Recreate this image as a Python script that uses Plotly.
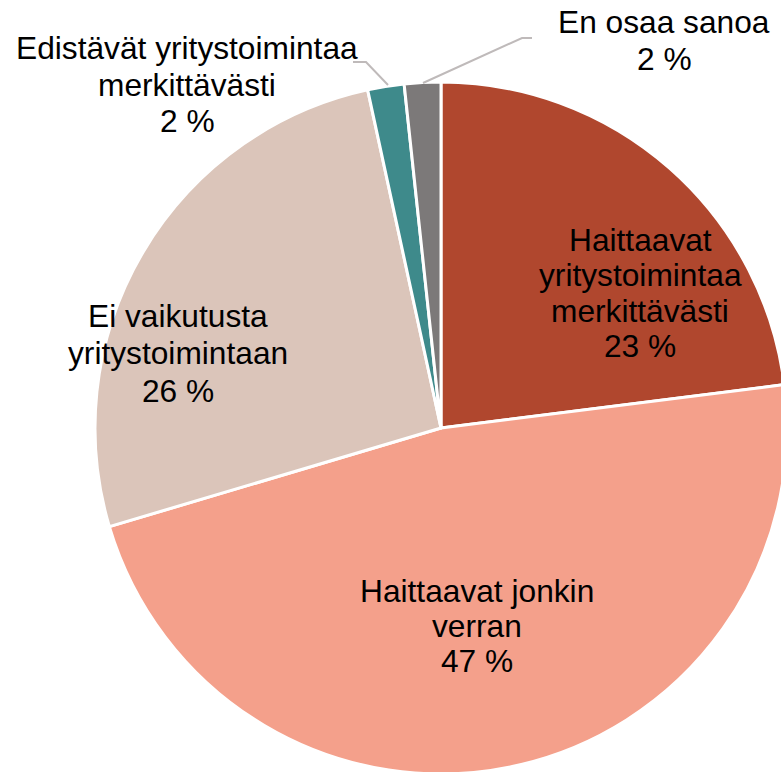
import plotly.graph_objects as go

FW, FH = 800, 790   # figure size (larger than the window; overflow is hidden)
OFF = 0  # body margin removed below

categories = [
    "Haittaavat yritystoimintaa merkittävästi",
    "Haittaavat jonkin verran",
    "Ei vaikutusta yritystoimintaan",
    "Edistävät yritystoimintaa merkittävästi",
    "En osaa sanoa",
]
values = [23.0, 47.4, 26.2, 1.7, 1.7]
colors = ["#B0472E", "#F4A08B", "#DBC5BA", "#3E8A8B", "#7C7979"]

label_lines = [
    ["Haittaavat", "yritystoimintaa", "merkittävästi"],
    ["Haittaavat jonkin", "verran"],
    ["Ei vaikutusta", "yritystoimintaan"],
    ["Edistävät yritystoimintaa", "merkittävästi"],
    ["En osaa sanoa"],
]
label_pos = [(640, 240), (477, 591), (178, 316), (187, 48), (664, 22)]
line_gap = [35.4, 35.0, 37.5, 36.5, 37.0]
FONT_SIZE = 31.7


def px(x, y):
    return (x - OFF) / FW, 1 - (y - OFF) / FH


cx, cy, r = 441, 428, 346
dom_x = [(cx - r - OFF) / FW, (cx + r - OFF) / FW]
dom_y = [1 - (cy + r - OFF) / FH, 1 - (cy - r - OFF) / FH]

fig = go.Figure(
    go.Pie(
        labels=categories,
        values=values,
        sort=False,
        direction="clockwise",
        rotation=0,
        marker=dict(colors=colors, line=dict(color="white", width=3)),
        textinfo="none",
        hoverinfo="label+percent",
        domain=dict(x=dom_x, y=dom_y),
        showlegend=False,
    )
)

annotations = []
for i, lines in enumerate(label_lines):
    pct = f"{round(values[i] / sum(values) * 100):.0f} %"
    all_lines = lines + [pct]
    x0, y0 = label_pos[i]
    for j, t in enumerate(all_lines):
        ax, ay = px(x0, y0 + j * line_gap[i])
        annotations.append(
            dict(
                x=ax, y=ay, xref="paper", yref="paper", text=t, showarrow=False,
                xanchor="center", yanchor="middle",
                font=dict(family="Arial, Liberation Sans, sans-serif", size=FONT_SIZE, color="black"),
            )
        )

leaders = [
    [(353, 62), (366, 62), (388, 85)],
    [(532, 38), (522, 38), (423, 83)],
]
shapes = []
for pts in leaders:
    path = "M " + " L ".join(f"{px(x, y)[0]:.5f},{px(x, y)[1]:.5f}" for x, y in pts)
    shapes.append(dict(type="path", path=path, xref="paper", yref="paper",
                       line=dict(color="#BFBABA", width=2)))

fig.update_layout(
    width=FW, height=FH,
    margin=dict(l=0, r=0, t=0, b=0),
    paper_bgcolor="white", plot_bgcolor="white",
    annotations=annotations,
    shapes=shapes,
)

fig.write_html(
    "out.html",
    config={"displayModeBar": False},
    post_script=(
        "document.documentElement.style.overflow='hidden';"
        "document.body.style.overflow='hidden';"
        "document.body.style.margin='0';"
    ),
)
